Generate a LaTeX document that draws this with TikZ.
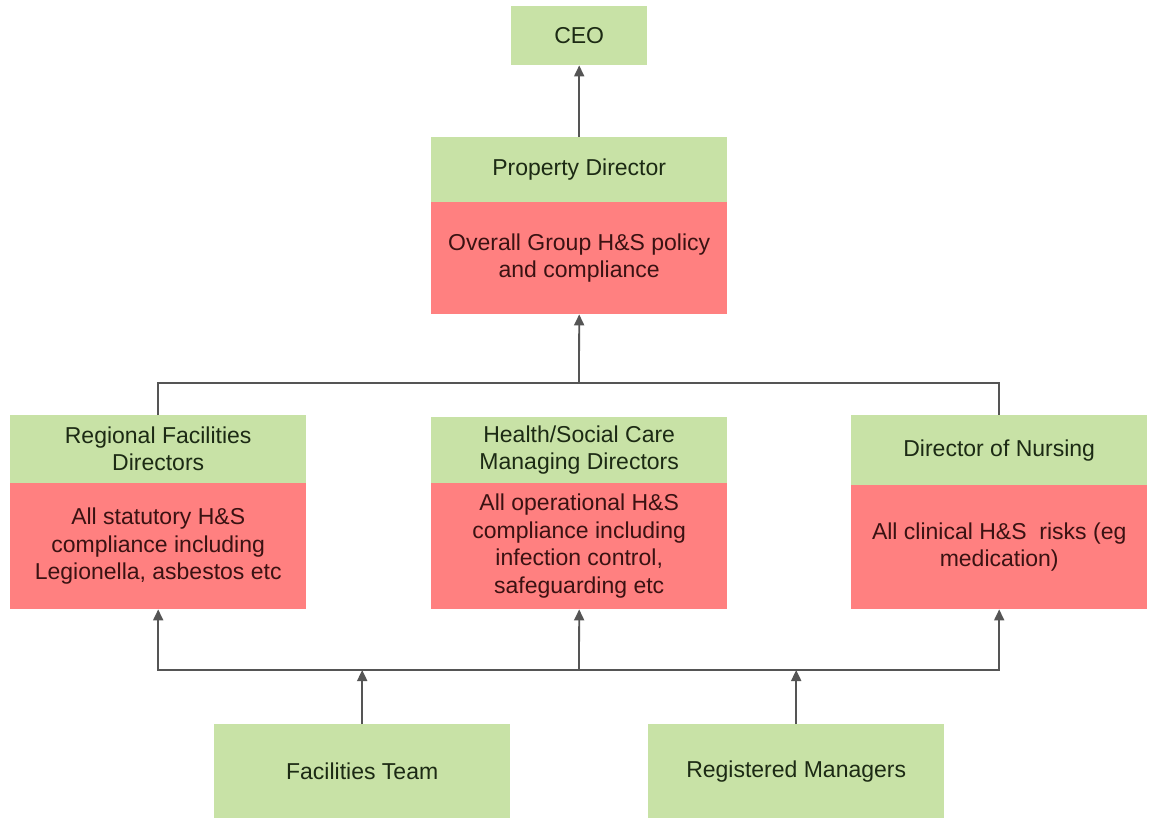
\documentclass[tikz,border=0pt]{standalone}
\usepackage{fontspec}
\setmainfont{Liberation Sans}
\usetikzlibrary{arrows.meta}
\definecolor{boxgreen}{HTML}{C8E2A6}
\definecolor{boxred}{HTML}{FF8080}
\definecolor{txtgreen}{HTML}{1C2A14}
\definecolor{txtred}{HTML}{3A1212}
\definecolor{linegray}{HTML}{555555}
\tikzset{
  hdr/.style={rectangle, fill=boxgreen, text=txtgreen, inner sep=0pt, align=center, anchor=north west,
    font=\fontsize{23}{27}\selectfont},
  bdy/.style={rectangle, fill=boxred, text=txtred, inner sep=0pt, align=center, anchor=north west,
    font=\fontsize{23}{27.5}\selectfont},
  conn/.style={draw=linegray, line width=1.8pt},
  arr/.style={conn, -{Triangle[length=11pt,width=10pt]}}
}
\begin{document}
\begin{tikzpicture}[x=1pt,y=-1pt]
\useasboundingbox[fill=white] (0,0) rectangle (1149,818);
% CEO
\node[hdr, minimum width=136pt, minimum height=59pt] (ceo) at (511,6) {CEO};
% Property Director
\node[hdr, minimum width=296pt, minimum height=65pt] (pdh) at (431,137) {Property Director};
\node[bdy, minimum width=296pt, minimum height=112pt] (pdb) at (431,202) {Overall Group H\&S policy\\and compliance};
% Regional Facilities Directors
\node[hdr, minimum width=296pt, minimum height=68pt] (rfh) at (10,415) {Regional Facilities\\Directors};
\node[bdy, minimum width=296pt, minimum height=126pt] (rfb) at (10,483) {All statutory H\&S\\compliance including\\Legionella, asbestos etc};
% Health/Social Care Managing Directors
\node[hdr, minimum width=296pt, minimum height=66pt] (mdh) at (431,417) {Health/Social Care\\Managing Directors};
\node[bdy, minimum width=296pt, minimum height=126pt] (mdb) at (431,483) {All operational H\&S\\compliance including\\infection control,\\safeguarding etc};
% Director of Nursing
\node[hdr, minimum width=296pt, minimum height=70pt] (dnh) at (851,415) {Director of Nursing};
\node[bdy, minimum width=296pt, minimum height=124pt] (dnb) at (851,485) {All clinical H\&S\ \ risks (eg\\medication)};
% Bottom
\node[hdr, minimum width=296pt, minimum height=94pt] (ft) at (214,724) {Facilities Team};
\node[hdr, minimum width=296pt, minimum height=94pt] (rm) at (648,724) {Registered Managers};
% connectors
\coordinate (top) at (579,383);
\coordinate (bot) at (579,670);
\draw[arr] (pdh.north) -- (ceo.south);
\draw[conn] (rfh.north) |- (top) -| (dnh.north);
\draw[arr] (top) -- (pdb.south);
\draw[arr] (bot) -- (mdb.south);
\draw[arr] (bot) -| (rfb.south);
\draw[arr] (bot) -| (dnb.south);
\draw[arr] (ft.north) -- (ft.north |- bot);
\draw[arr] (rm.north) -- (rm.north |- bot);
\end{tikzpicture}
\end{document}
